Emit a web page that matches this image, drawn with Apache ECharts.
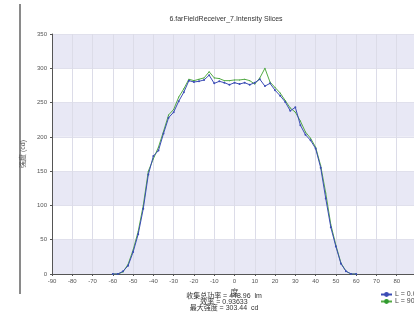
<!DOCTYPE html>
<html><head><meta charset="utf-8">
<script src="https://cdn.jsdelivr.net/npm/echarts@6/dist/echarts.min.js"></script>
<style>html,body{margin:0;padding:0;background:#fff;overflow:hidden;width:414px;height:329px;}#c{width:424px;height:329px;}</style>
</head><body><div id="c"></div>
<script>
const angles = [-60,-57.5,-55,-52.5,-50,-47.5,-45,-42.5,-40,-37.5,-35,-32.5,-30,-27.5,-25,-22.5,-20,-17.5,-15,-12.5,-10,-7.5,-5,-2.5,0,2.5,5,7.5,10,12.5,15,17.5,20,22.5,25,27.5,30,32.5,35,37.5,40,42.5,45,47.5,50,52.5,55,57.5,60];
const sliceL0 = [0,0,4,12,32,58,95,145,172,180,205,228,236,252,265,282,280,281,283,290,278,281,279,276,279,277,279,276,279,284,274,278,268,260,251,238,243,217,203,195,183,155,110,68,40,15,4,0,0];
const sliceL90 = [0,0,3,14,35,62,100,150,168,185,208,232,240,258,270,284,282,284,286,295,286,285,282,282,283,283,284,282,277,286,300,280,272,264,253,242,236,223,207,198,185,158,118,72,42,16,4,0,0];
const seriesNames = ['L = 0.00 deg', 'L = 90.00 deg'];
const yTicks = [0, 350, 50];
const xTicks = [-90, 90, 10];
const titleText = '6.farFieldReceiver_7.Intensity Slices';
const statsLines = ['收集总功率 = 448.96  lm', '效率 = 0.93633', '最大强度 = 303.44  cd'];

const font = 'Arial, "Liberation Sans", "Noto Sans CJK SC", sans-serif';
const chart = echarts.init(document.getElementById('c'), null, {renderer: 'canvas'});
const pair = (xs, ys) => xs.map((x, i) => [x, ys[i]]);
chart.setOption({
  animation: false,
  backgroundColor: '#fff',
  textStyle: {fontFamily: font},
  grid: {left: 52, top: 34, right: 7, bottom: 55},
  xAxis: {
    type: 'value', min: xTicks[0], max: xTicks[1], interval: xTicks[2],
    name: '度', nameLocation: 'middle', nameGap: 7,
    nameTextStyle: {fontSize: 8, color: '#444', fontFamily: font},
    axisLine: {onZero: false, lineStyle: {color: '#555', width: 1}},
    axisTick: {length: 2, lineStyle: {color: '#555'}},
    axisLabel: {fontSize: 6, color: '#555', margin: 4},
    splitLine: {show: true, lineStyle: {color: '#dcdce8', width: 1}}
  },
  yAxis: {
    type: 'value', min: yTicks[0], max: yTicks[1], interval: yTicks[2],
    name: '强度 (cd)', nameLocation: 'middle', nameGap: 21, nameRotate: 90,
    nameTextStyle: {fontSize: 7, color: '#555', fontFamily: font},
    axisLine: {show: true, onZero: false, lineStyle: {color: '#555', width: 1}},
    axisTick: {show: true, length: 2, lineStyle: {color: '#555'}},
    axisLabel: {fontSize: 6, color: '#555', margin: 5},
    splitLine: {show: true, lineStyle: {color: '#e0e0ec', width: 1}},
    splitArea: {show: true, areaStyle: {color: ['#e8e8f5', '#ffffff']}}
  },
  legend: {
    left: 380, top: 291, orient: 'vertical', itemGap: 0, padding: 0,
    itemWidth: 11, itemHeight: 6,
    textStyle: {fontSize: 7, color: '#444', padding: [0, 0, 0, -2]},
    data: seriesNames
  },
  series: [
    {name: seriesNames[0], type: 'line', data: pair(angles, sliceL0),
     symbol: 'circle', symbolSize: 2, showSymbol: true,
     lineStyle: {color: '#3b4cb5', width: 1}, itemStyle: {color: '#3b4cb5'}, z: 3},
    {name: seriesNames[1], type: 'line', data: pair(angles, sliceL90),
     symbol: 'circle', symbolSize: 1, showSymbol: true,
     lineStyle: {color: '#55aa45', width: 1}, itemStyle: {color: '#2f9a2f'}, z: 2}
  ],
  graphic: [
    {type: 'rect', shape: {x: 19, y: 4, width: 2, height: 290}, style: {fill: '#8a8a8a'}},
    {type: 'text', x: 226, y: 19, style: {text: titleText, textAlign: 'center', textVerticalAlign: 'middle', fill: '#333', font: '7px ' + font}},
    {type: 'text', x: 224, y: 296, style: {text: statsLines[0], textAlign: 'center', textVerticalAlign: 'middle', fill: '#333', font: '7px ' + font}},
    {type: 'text', x: 224, y: 302, style: {text: statsLines[1], textAlign: 'center', textVerticalAlign: 'middle', fill: '#333', font: '7px ' + font}},
    {type: 'text', x: 224, y: 308.5, style: {text: statsLines[2], textAlign: 'center', textVerticalAlign: 'middle', fill: '#333', font: '7px ' + font}}
  ]
});
</script></body></html>
